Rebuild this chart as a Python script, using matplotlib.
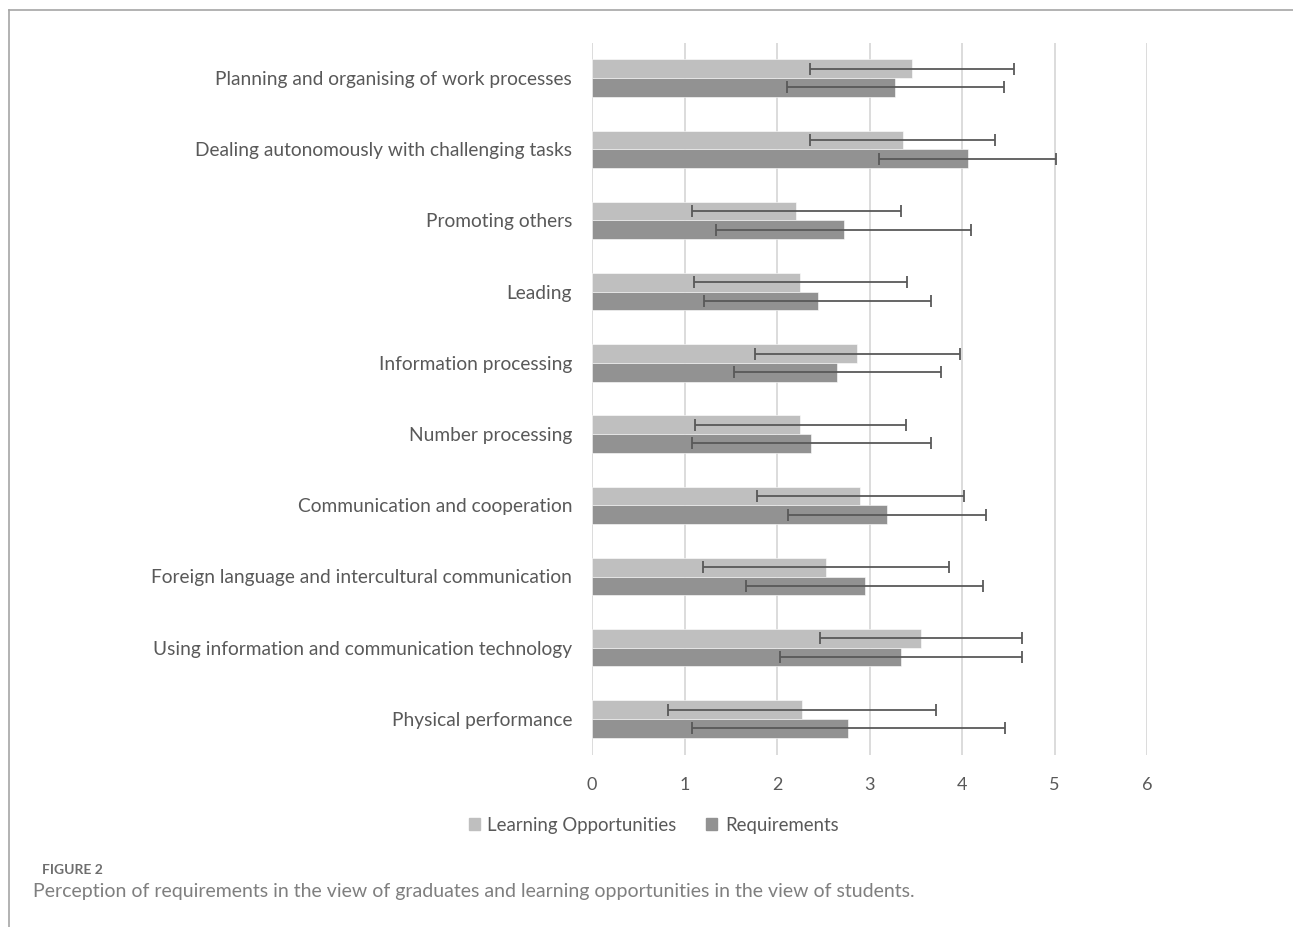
import matplotlib
matplotlib.use("Agg")
import matplotlib.pyplot as plt
import numpy as np
from matplotlib.lines import Line2D
from matplotlib.patches import Rectangle

plt.rcParams['font.family'] = ['Lato', 'DejaVu Sans']

categories = [
    "Planning and organising of work processes",
    "Dealing autonomously with challenging tasks",
    "Promoting others",
    "Leading",
    "Information processing",
    "Number processing",
    "Communication and cooperation",
    "Foreign language and intercultural communication",
    "Using information and communication technology",
    "Physical performance",
]
learning_mean = [3.46, 3.36, 2.21, 2.25, 2.87, 2.25, 2.90, 2.53, 3.56, 2.27]
learning_sd   = [1.10, 1.00, 1.13, 1.15, 1.11, 1.14, 1.12, 1.33, 1.09, 1.45]
require_mean  = [3.28, 4.06, 2.72, 2.44, 2.65, 2.37, 3.19, 2.95, 3.34, 2.77]
require_sd    = [1.17, 0.96, 1.38, 1.23, 1.12, 1.29, 1.07, 1.28, 1.31, 1.69]
x_ticks = [0, 1, 2, 3, 4, 5, 6]
series_names = ["Learning Opportunities", "Requirements"]

c_lo = "#BFBFBF"
c_req = "#929292"
c_err = "#595959"
c_text = "#595959"

fig = plt.figure(figsize=(12.93, 9.27), dpi=100)
ax = fig.add_axes([592/1293, 1-754.5/927, (1147-592)/1293, (754.5-42.5)/927])

n = len(categories)
y = np.arange(n)
h = 0.263
ax.barh(y - h/2, learning_mean, height=h, color=c_lo, edgecolor="white", linewidth=0.4, zorder=2)
ax.barh(y + h/2, require_mean, height=h, color=c_req, edgecolor="white", linewidth=0.4, zorder=2)
ax.errorbar(learning_mean, y - h/2, xerr=learning_sd, fmt="none", ecolor=c_err,
            elinewidth=1.3, capsize=4.5, capthick=1.3, zorder=3)
ax.errorbar(require_mean, y + h/2, xerr=require_sd, fmt="none", ecolor=c_err,
            elinewidth=1.3, capsize=4.5, capthick=1.3, zorder=3)

ax.set_ylim(n - 0.5, -0.5)
ax.set_xlim(0, 6)
ax.set_xticks(x_ticks)
ax.set_xticklabels([str(t) for t in x_ticks])
ax.set_yticks(y)
ax.set_yticklabels(categories)
ax.tick_params(axis='both', length=0, labelcolor=c_text)
ax.tick_params(axis='x', pad=16, labelsize=13)
ax.tick_params(axis='y', pad=14.4, labelsize=13.8)
for s in ax.spines.values():
    s.set_visible(False)
ax.grid(axis='x', color="#D9D9D9", linewidth=1.3, zorder=0)
ax.set_axisbelow(True)

handles = [Rectangle((0, 0), 1, 1, color=c_lo), Rectangle((0, 0), 1, 1, color=c_req)]
fig.legend(handles, series_names, loc='center', bbox_to_anchor=(653.5/1293, 1-825/927),
           ncol=2, frameon=False, fontsize=13.4, labelcolor=c_text,
           handlelength=0.6, handleheight=0.6, handletextpad=0.4, columnspacing=1.6)

# panel border
fig.add_artist(Line2D([9/1293, 1], [1-10/927, 1-10/927], color="#A6A6A6", linewidth=1.2))
fig.add_artist(Line2D([9/1293, 9/1293], [0, 1-10/927], color="#A6A6A6", linewidth=1.2))

fig.text(42/1293, 1-870/927, "FIGURE 2", fontsize=10, fontweight='bold', color="#6E6E6E",
         va='center', ha='left')
fig.text(33/1293, 1-891/927,
         "Perception of requirements in the view of graduates and learning opportunities in the view of students.",
         fontsize=14, color="#7F7F7F", va='center', ha='left')

fig.savefig("out.png", dpi=100)
